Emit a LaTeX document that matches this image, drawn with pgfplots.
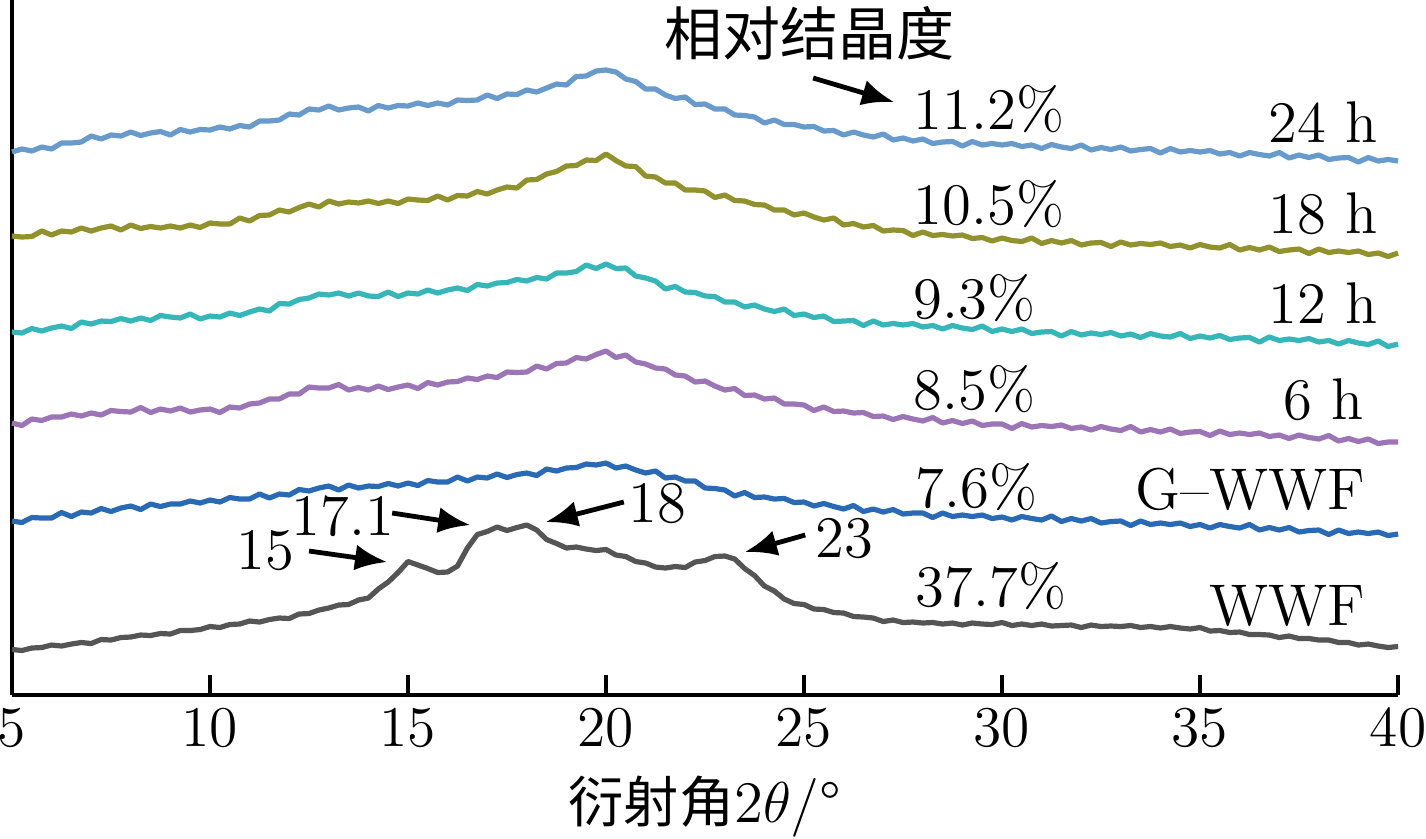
\documentclass[border=0pt]{standalone}
\usepackage{fontspec}
\newfontfamily\cjk{Noto Sans CJK SC}
\usepackage{pgfplots}
\usepackage{pgfplotstable}
\pgfplotsset{compat=1.18}
\usetikzlibrary{arrows.meta}

\definecolor{cA}{RGB}{104,154,204}
\definecolor{cB}{RGB}{145,145,45}
\definecolor{cC}{RGB}{55,182,185}
\definecolor{cD}{RGB}{155,117,182}
\definecolor{cE}{RGB}{42,106,181}
\definecolor{cF}{RGB}{85,85,85}

% x = diffraction angle 2theta; a=24 h, b=18 h, c=12 h, d=6 h, e=G-WWF, f=WWF (offset intensities, a.u.)
\pgfplotstableread{
x a b c d e f
5.00 543 459 363 272 174 45.5
5.25 546 458 362 269.5 172.5 44.5
5.50 544 458.5 366.5 276 177.5 47
5.75 548 464 364 274.5 177 47.5
6.00 546 460 367 278 177 50
6.25 552 464 369 278 182.5 49
6.50 552 463 366.5 281 178.5 51
6.75 553 467 373 279 183 52.5
7.00 559 464 371 282 182 51.5
7.25 556 467 374 280 186.5 55.5
7.50 560 469 373.5 284.5 183.5 55
7.75 559 465 376.5 283.5 187 57.5
8.00 563 470 374 283 189 58
8.25 559.5 466.5 377 287.5 185.5 60
8.50 562 468.5 374.5 282.5 191 59.5
8.75 563.5 467 379.5 286 188.5 61.5
9.00 560 469 378 284 191 61
9.25 565.5 467 377 287 191 64.5
9.50 563 470 381 283 194 64.5
9.75 565.5 467.5 376 285 192 65.5
10.00 565 472 379 286 195 68.5
10.25 568 471 378 282.5 193 67.5
10.50 566 471 382 288 197.5 70.5
10.75 569.5 477 379.5 287 196 71
11.00 568 474 383 291 196 74
11.25 574 479.5 386 292 201 73
11.50 574 480 384 296 197 75.5
11.75 575 485 391.5 296 201 77
12.00 581 483 391 301 200 76.5
12.25 580 487.5 395.5 301 205.5 81
12.50 586 491 397 308 204 81.5
12.75 585 488 401 307 207 85
13.00 589 494 400 307 209 87
13.25 585 491 402 310.5 205 90
13.50 587 493 399 305 210 90.5
13.75 588 492 402 307.5 207 95
14.00 584 494 399 305 209 97
14.25 589.5 491.5 398.5 309 208.5 106
14.50 587 494 403 305.5 211.5 113
14.75 589.5 491.5 398.5 308 209 122.5
15.00 589 496 402 310 212 133.5
15.25 592 495 401 306.5 209.5 130
15.50 589.5 494.5 405 312.5 214.5 126.5
15.75 592 499 402 310 213 122.5
16.00 590 495 405 313 213 123
16.25 595 499.5 407 313.5 218 129
16.50 594.5 499 404.5 317 214 147
16.75 595 503.5 410.5 315.5 218 160.5
17.00 600 501 409 319 217 163.5
17.25 596.5 505 412 317.5 221 168
17.50 601 508 412.5 323 217.5 164.5
17.75 600.5 507 415.5 322.5 220.5 167.5
18.00 605 515 414 323 222 170
18.25 603 515.5 417.5 329 219.5 165
18.50 607 521 416 326 226 155.5
18.75 611 523.5 422 331.5 224 151.5
19.00 610 529 422 332 227 147
19.25 618.5 529.5 423.5 337.5 227.5 148
19.50 619 535 430 336 231 146
19.75 624 534.5 426.5 340.5 230 144.5
20.00 625 541 431 344 232 145.5
20.25 623 534.5 426.5 337.5 227 140
20.50 616 529 427 340 229 138.5
20.75 613.5 528.5 419 333 225 133.5
21.00 606 519 417 331 222 132
21.25 606 518 414 327 224 128
21.50 600 512 406 326 217 127
21.75 596.5 512 408.5 320 218 128.5
22.00 598 505 403 319 214 127.5
22.25 590.5 505 402.5 313 214 133
22.50 591 504 399 314 207 134.5
22.75 586 497.5 398.5 309 206.5 138.5
23.00 586 500 393 305 205 139
23.25 580 494.5 393 306.5 199 136
23.50 579.5 494 388 299.5 202.5 126.5
23.75 578 490.5 390 300 197.5 119.5
24.00 572 490 386 296 198 109
24.25 575 485 383.5 297 196 104
24.50 570.5 485 386 291 196.5 96
24.75 570.5 480 379.5 291 192.5 91.5
25.00 568 482 381 290 193 90.5
25.25 568.5 478 377.5 284.5 189 86
25.50 564 475 379 288 191.5 85.5
25.75 564.5 477 373.5 283.5 188.5 82.5
26.00 560 470 374 284 186 82
26.25 563 471.5 374.5 282 189.5 78.5
26.50 560 468 369.5 282.5 183.5 78
26.75 558 469.5 374 278.5 186 77
27.00 561 464 370 279 183 73.5
27.25 555 465 371.5 275.5 185.5 75
27.50 557 464.5 370 278.5 181 72.5
27.75 554 459.5 371.5 276 182 73
28.00 556 463 368 274 182 72
28.25 551.5 459.5 369.5 277.5 177.5 72.5
28.50 553 460.5 366 272 182 71
28.75 553.5 459 369.5 274.5 178.5 72
29.00 549 460 367 271.5 180 70
29.25 553.5 456.5 365.5 274 178.5 72
29.50 550 457.5 369 269.5 180 71
29.75 551.5 454 363.5 271 176.5 70.5
30.00 550 457 366 271 178 72.5
30.25 551.5 454.5 363.5 266.5 175 69.5
30.50 548.5 453.5 366 271.5 178.5 71
30.75 550 457 361.5 268 176.5 69.5
31.00 546.5 451.5 363 269.5 175 71
31.25 550.5 454.5 363.5 268.5 179 69
31.50 548 452 359 270 173.5 69.5
31.75 546.5 454.5 363.5 266.5 176.5 70
32.00 550 450 360 268 174 67.5
32.25 545 452 362 265 176.5 70
32.50 547.5 452.5 360.5 268.5 172 68.5
32.75 545.5 448.5 362.5 266 173.5 69
33.00 548 453 359 264.5 174 68.5
33.25 544 450 361 268.5 169.5 69.5
33.50 545.5 451.5 357.5 263 174 67.5
33.75 546.5 450.5 361.5 265.5 170.5 68.5
34.00 542 452 359 263 172 67
34.25 546.5 448.5 358 266 170.5 68.5
34.50 543 450 361.5 261.5 172 67
34.75 544.5 447 356.5 263 168.5 66
35.00 543 450.5 359 263.5 170.5 67.5
35.25 544.5 448 357 259.5 167 64
35.50 541 447 359.5 264 170.5 64.5
35.75 542.5 450.5 355.5 260.5 168.5 62.5
36.00 539 445 357 262 167 63
36.25 542.5 447.5 357.5 260.5 170.5 60.5
36.50 540.5 445 353 262 165 60.5
36.75 539 448 358 258.5 167.5 60
37.00 542.5 443.5 354.5 260 165 57.5
37.25 537 445 356 256.5 167.5 59
37.50 540 446 354.5 260 163 56.5
37.75 537.5 441.5 356.5 257.5 164.5 56.5
38.00 540 446 353 256 165 55
38.25 535.5 442.5 354.5 259.5 160.5 55
38.50 537 444 351 254 165 52.5
38.75 537.5 442.5 354.5 256.5 161.5 52.5
39.00 533 444 352 253.5 163 50
39.25 537.5 440.5 350.5 256 161.5 51
39.50 534 442 354 251.5 163 49
39.75 535.5 438.5 348.5 253 159.5 47.5
40.00 534 442 351 253 161 48.5
}\xrd

\begin{document}
\begin{tikzpicture}[font=\fontsize{14.7}{17}\selectfont]
\begin{axis}[
  scale only axis,
  width=346.5pt, height=173.75pt,
  xmin=5, xmax=40, ymin=0, ymax=695,
  axis x line*=bottom, axis y line*=left,
  axis line style={line width=1pt,-},
  xtick={5,10,...,40}, ytick=\empty,
  tick align=inside, major tick length=5pt,
  tick style={line width=0.8pt, black},
  clip=false,
  xlabel={{\cjk\fontsize{13.8}{16}\selectfont 衍射角}2$\theta$/°},
  xlabel style={at={(axis description cs:0.5,0)}, anchor=center, yshift=-28pt},
  every axis plot/.append style={line width=1.3pt, line join=round, no markers},
]
\addplot[cA] table[x=x,y=a]{\xrd};
\addplot[cB] table[x=x,y=b]{\xrd};
\addplot[cC] table[x=x,y=c]{\xrd};
\addplot[cD] table[x=x,y=d]{\xrd};
\addplot[cE] table[x=x,y=e]{\xrd};
\addplot[cF] table[x=x,y=f]{\xrd};

\coordinate (bl) at (rel axis cs:0,0);
\coordinate (tr) at (rel axis cs:1,1);

\tikzset{pl/.style={inner sep=0pt, anchor=west}, hl/.style={inner sep=0pt, anchor=east},
  arr/.style={line width=1.2pt, -{Latex[length=8pt,width=6.5pt]}}}
\node[pl] at (axis cs:27.75,586) {11.2\%};
\node[pl] at (axis cs:27.75,491) {10.5\%};
\node[pl] at (axis cs:27.75,397) {9.3\%};
\node[pl] at (axis cs:27.75,306) {8.5\%};
\node[pl] at (axis cs:27.8,208) {7.6\%};
\node[pl] at (axis cs:27.8,109) {37.7\%};
\node[hl] at (axis cs:39.49,573) {24 h};
\node[hl] at (axis cs:39.49,481) {18 h};
\node[hl] at (axis cs:39.49,392) {12 h};
\node[hl] at (axis cs:39.14,295) {6 h};
\node[hl] at (axis cs:39.19,206) {G–WWF};
\node[hl] at (axis cs:39.19,89) {WWF};
\node[inner sep=0pt] at (axis cs:25.15,662) {\cjk\fontsize{14.5}{16}\selectfont 相对结晶度};
\draw[arr] (axis cs:25.23,617) -- (axis cs:27.27,593);
\node[inner sep=0pt] at (axis cs:11.39,144) {15};
\draw[arr] (axis cs:12.5,144) -- (axis cs:14.47,133);
\node[inner sep=0pt] at (axis cs:13.36,179) {17.1};
\draw[arr] (axis cs:14.6,182) -- (axis cs:16.57,170);
\node[inner sep=0pt] at (axis cs:21.29,191) {18};
\draw[arr] (axis cs:20.45,193) -- (axis cs:18.48,173);
\node[inner sep=0pt] at (axis cs:26.01,156) {23};
\draw[arr] (axis cs:25.03,160) -- (axis cs:23.51,143);
\end{axis}
\pgfresetboundingbox
\path[use as bounding box] ([xshift=-3pt,yshift=-35.75pt]bl) rectangle ([xshift=7pt]tr);
\end{tikzpicture}
\end{document}
